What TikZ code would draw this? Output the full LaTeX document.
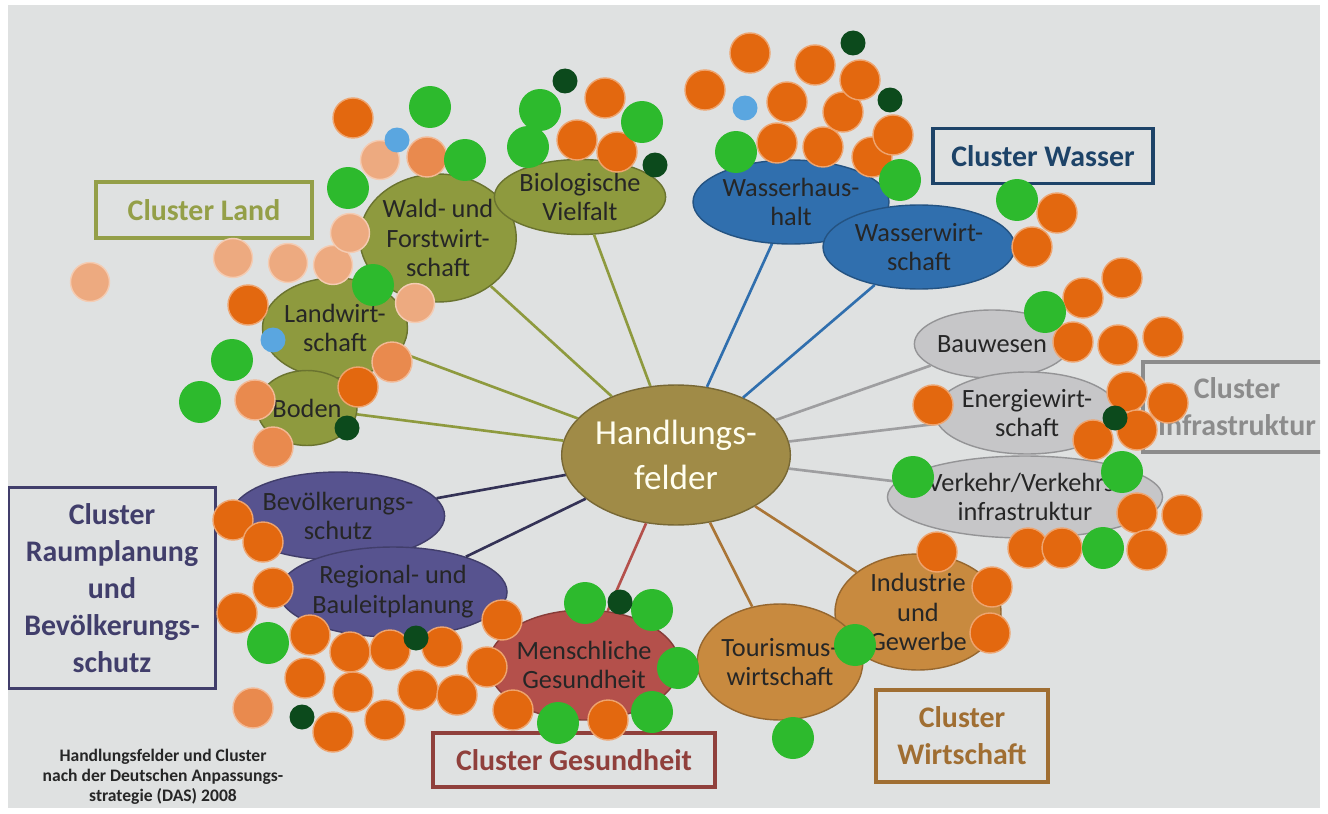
\documentclass[tikz,border=0pt]{standalone}
\usepackage{fontspec}
\setmainfont{Carlito}
\usetikzlibrary{shapes.geometric}
\definecolor{paper}{HTML}{DFE1E1}
\definecolor{landcol}{HTML}{8E9A3E}
\definecolor{wassercol}{HTML}{306FAE}
\definecolor{infracol}{HTML}{C6C6C8}
\definecolor{raumcol}{HTML}{57538F}
\definecolor{gesundcol}{HTML}{B4504B}
\definecolor{wirtcol}{HTML}{C88A3F}
\definecolor{mittecol}{HTML}{A08B47}
\definecolor{dotorange}{HTML}{E3680F}
\definecolor{dotlight}{HTML}{E98A4E}
\definecolor{dotpeach}{HTML}{EDAA80}
\definecolor{dotgreen}{HTML}{2DBA2D}
\definecolor{dotdark}{HTML}{0C4A1C}
\definecolor{dotblue}{HTML}{5AA6E0}
\begin{document}
\begin{tikzpicture}[x=0.02cm, y=-0.02cm,
    every node/.style={font=\fontsize{15}{17}\selectfont, align=center, text=black!85},
    feld/.style={ellipse, draw=#1!75!black, fill=#1, line width=0.8pt, inner sep=0pt},
    cbox/.style={draw=#1, text=#1, line width=2pt, inner sep=0pt, font=\bfseries\fontsize{17}{21}\selectfont},
    link/.style={draw=#1, line width=1.5pt},
    odot/.style={fill=dotorange, draw=dotorange!60!white, line width=0.8pt},
    ldot/.style={fill=dotlight, draw=dotlight!60!white, line width=0.8pt},
    pdot/.style={fill=dotpeach, draw=dotpeach!60!white, line width=0.8pt},
    gdot/.style={fill=dotgreen},
    ddot/.style={fill=dotdark},
    bdot/.style={fill=dotblue}]
  \useasboundingbox (0,0) rectangle (1328,814);
  \fill[white] (0,0) rectangle (1328,814);
  \fill[paper] (8,5) rectangle (1320,808);
  \begin{scope}
  \clip (8,5) rectangle (1320,808);

  % Handlungsfelder
  \node[feld=landcol, minimum width=2.88cm, minimum height=2.56cm] (wald) at (438,238) {Wald- und\\Forstwirt-\\schaft};
  \node[feld=landcol, minimum width=3.2cm, minimum height=1.5cm] (bio) at (580,197) {Biologische\\Vielfalt};
  \node[feld=landcol, minimum width=2.9cm, minimum height=2cm] (landw) at (335,328) {Landwirt-\\schaft};
  \node[feld=landcol, minimum width=2cm, minimum height=1.5cm] (boden) at (307,408) {Boden};
  \node[feld=wassercol, minimum width=3.92cm, minimum height=1.68cm] (wasserh) at (791,202) {Wasserhaus-\\halt};
  \node[feld=wassercol, minimum width=3.84cm, minimum height=1.68cm] (wasserw) at (919,247) {Wasserwirt-\\schaft};
  \node[feld=infracol, minimum width=2.7cm, minimum height=1.36cm] (bau) at (992,344) {Bauwesen};
  \node[feld=infracol, minimum width=3.36cm, minimum height=1.64cm] (energie) at (1027,413) {Energiewirt-\\schaft};
  \node[feld=infracol, minimum width=4.7cm, minimum height=1.64cm] (verkehr) at (1025,497) {Verkehr/Verkehrs-\\infrastruktur};
  \node[feld=raumcol, minimum width=3.68cm, minimum height=1.76cm] (bevoelk) at (338,516) {Bevölkerungs-\\schutz};
  \node[feld=raumcol, minimum width=4.04cm, minimum height=1.8cm] (regional) at (393,592) {Regional- und\\Bauleitplanung};
  \node[feld=gesundcol, minimum width=3.36cm, minimum height=2.2cm] (mensch) at (584,665) {Menschliche\\Gesundheit};
  \node[feld=wirtcol, minimum width=3.32cm, minimum height=2.32cm] (industrie) at (918,612) {Industrie\\und\\Gewerbe};
  \node[feld=wirtcol, minimum width=3.28cm, minimum height=2.32cm] (tourismus) at (780,662) {Tourismus-\\wirtschaft};
  \node[feld=mittecol, minimum width=4.24cm, minimum height=2.8cm, text=white!94!yellow,
        font=\fontsize{20}{26}\selectfont] (mitte) at (676,455) {Handlungs-\\felder};

  % Verbindungen
  \foreach \n in {wald,bio,landw,boden} \path[link=landcol] (mitte) -- (\n);
  \foreach \n in {wasserh,wasserw} \path[link=wassercol] (mitte) -- (\n);
  \foreach \n in {bau,energie,verkehr} \path[link=infracol!80!black] (mitte) -- (\n);
  \foreach \n in {bevoelk,regional} \path[link=raumcol!60!black] (mitte) -- (\n);
  \path[link=gesundcol] (mitte) -- (mensch);
  \foreach \n in {tourismus,industrie} \path[link=wirtcol!85!black] (mitte) -- (\n);

  % Cluster
  \node[cbox=landcol!95!white, minimum width=4.32cm, minimum height=1.12cm] (cland) at (204,210) {Cluster Land};
  \node[cbox=wassercol!60!black, minimum width=4.4cm, minimum height=1.1cm] (cwasser) at (1043,156) {Cluster Wasser};
  \node[cbox=black!45, minimum width=3.76cm, minimum height=1.8cm] (cinfra) at (1237,407) {Cluster\\Infrastruktur};
  \node[cbox=raumcol!75!black, minimum width=4.14cm, minimum height=4.02cm] (craum) at (112,588) {Cluster\\Raumplanung\\und\\Bevölkerungs-\\schutz};
  \node[cbox=gesundcol!80!black, minimum width=5.64cm, minimum height=1.08cm] (cgesund) at (574,760) {Cluster Gesundheit};
  \node[cbox=wirtcol!80!black, minimum width=3.44cm, minimum height=1.84cm] (cwirt) at (962,736) {Cluster\\Wirtschaft};
  \node[font=\bfseries\fontsize{10}{11.5}\selectfont] (quelle) at (163,777)
    {Handlungsfelder und Cluster\\nach der Deutschen Anpassungs-\\strategie (DAS) 2008};

  % Punkte
  \foreach \x/\y in {353/118, 248/305, 358/387, 605/98, 577/140, 617/152, 705/90, 750/53, 787/102,
      777/143, 815/65, 823/147, 843/112, 860/80, 872/157, 893/135, 1057/213, 1032/247, 1122/278,
      1083/298, 1073/342, 1118/345, 1163/337, 933/405, 1127/392, 1168/403, 1137/430, 1093/440,
      1137/513, 1182/515, 1028/548, 1062/548, 1147/550, 937/552, 992/587, 990/633, 608/720,
      513/710, 487/667, 502/620, 233/520, 263/542, 273/588, 237/613, 310/635, 350/652, 390/650,
      442/647, 305/678, 353/692, 418/690, 457/695, 333/732, 385/720}
    \path[odot] (\x,\y) circle[radius=0.4cm];
  \foreach \x/\y in {427/157, 392/362, 255/400, 273/447, 253/708}
    \path[ldot] (\x,\y) circle[radius=0.4cm];
  \foreach \x/\y in {380/160, 233/258, 90/282, 288/263, 333/265, 350/233, 415/303}
    \path[pdot] (\x,\y) circle[radius=0.39cm];
  \foreach \x/\y in {430/107, 465/160, 348/188, 373/285, 232/360, 200/402, 540/110, 528/147,
      642/122, 736/152, 900/180, 1017/200, 1045/312, 913/477, 1122/472, 1103/548, 855/645,
      793/738, 585/603, 652/610, 678/668, 652/712, 558/723, 268/643}
    \path[gdot] (\x,\y) circle[radius=0.42cm];
  \foreach \x/\y in {347/428, 565/81, 655/165, 853/43, 890/100, 1115/418, 620/602, 416/638, 302/717}
    \path[ddot] (\x,\y) circle[radius=0.25cm];
  \foreach \x/\y in {397/140, 273/340, 745/108}
    \path[bdot] (\x,\y) circle[radius=0.25cm];
  \end{scope}
\end{tikzpicture}
\end{document}
